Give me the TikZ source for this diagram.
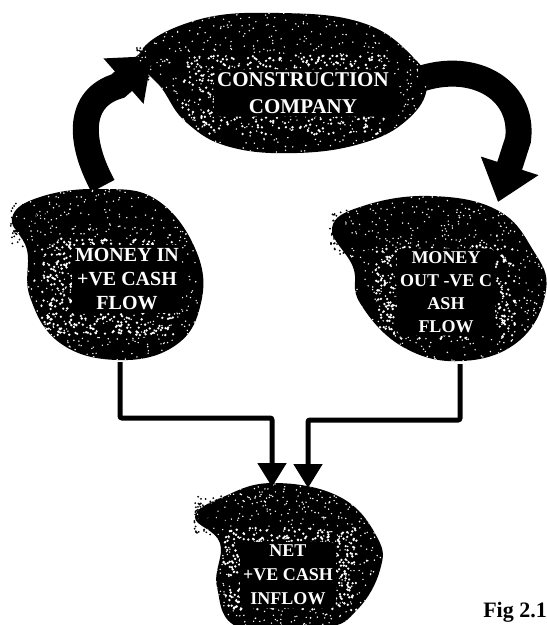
\documentclass[tikz,border=0pt]{standalone}
\usepackage{fontspec}
\setmainfont{Liberation Serif}
\usetikzlibrary{arrows.meta}
\newcommand\speckle[7]{\fill[#6] \foreach \k in {1,...,#5}{ ({#1+#3*rand},{#2+#4*rand}) circle[radius=#7]};}
\begin{document}
\begin{tikzpicture}[x=1pt,y=-1pt,
  lbl/.style={text=white,fill=black,rounded corners=6pt,align=center,inner sep=3pt},
  bigband/.style={line width=26pt,-{Triangle[width=58pt,length=38pt]}},
  elbow/.style={line width=5pt,rounded corners=2pt,-{Triangle[width=28pt,length=24pt]}}]
\pgfmathsetseed{7}
\useasboundingbox (0,0) rectangle (547,625);
\fill[white] (0,0) rectangle (547,625);
\def\topblob{plot[smooth cycle,tension=0.7] coordinates {(140,53) (197,20) (280,13) (363,23) (413,57) (427,87) (407,120) (363,143) (297,153) (230,147) (187,123) (163,90)}}
\def\leftblob{plot[smooth cycle,tension=0.7] coordinates {(40,197) (100,189) (157,200) (197,253) (200,307) (173,347) (117,360) (60,343) (30,297) (27,250) (12,218)}}
\def\rightblob{plot[smooth cycle,tension=0.7] coordinates {(363,206) (430,196) (497,210) (533,250) (546,290) (520,340) (463,361) (403,347) (360,303) (353,267) (332,228)}}
\def\botblob{plot[smooth cycle,tension=0.7] coordinates {(223,497) (273,483) (340,497) (377,537) (380,570) (357,610) (323,628) (240,628) (217,587) (220,543) (195,517)}}
% curved arrows
\coordinate (la1) at (103,186);
\coordinate (la2) at (152,56);
\coordinate (ra1) at (412,82);
\coordinate (ra2) at (498,202);
\draw[bigband] (la1) .. controls (78,140) and (78,98) .. (118,86) -- (la2);
\draw[bigband] (ra1) .. controls (470,58) and (525,88) .. (518,140) -- (ra2);
% blobs
\foreach \b/\cx/\cy/\w/\h in {\topblob/283/83/145/72,\leftblob/108/275/95/88,\rightblob/445/280/100/85,\botblob/290/557/95/75}{
  \fill[black] \b;
  \begin{scope}
    \clip \b;
    \speckle{\cx}{\cy}{\w}{\h}{700}{white}{0.8}
    \speckle{\cx}{\cy+12}{0.7*\w}{0.55*\h}{450}{white}{1.3}
  \end{scope}
}
% fuzzy edges
\speckle{30}{225}{20}{22}{130}{black}{1}
\speckle{350}{232}{20}{22}{130}{black}{1}
\speckle{212}{515}{18}{20}{120}{black}{1}
\speckle{148}{62}{12}{18}{60}{black}{1}
% texts
\node[lbl,font=\bfseries\fontsize{21}{27}\selectfont] (cc) at (303,93) {CONSTRUCTION\\COMPANY};
\node[lbl,font=\bfseries\fontsize{20}{24}\selectfont] (min) at (127,279) {MONEY IN\\+VE CASH\\FLOW};
\node[lbl,font=\bfseries\fontsize{18}{23}\selectfont] (mout) at (446,292) {MONEY\\OUT -VE C\\ASH\\FLOW};
\node[lbl,font=\bfseries\fontsize{18}{24}\selectfont] (net) at (288,575) {NET\\+VE CASH\\INFLOW};
% elbow connectors
\coordinate (l1) at (120,362);
\coordinate (l2) at (272,487);
\coordinate (r1) at (460,364);
\coordinate (r2) at (308,488);
\draw[elbow] (l1) -- (120,418) -- (272,418) -- (l2);
\draw[elbow] (r1) -- (460,420) -- (308,420) -- (r2);
\node[font=\bfseries\fontsize{22}{24}\selectfont,anchor=south east,inner sep=0pt] (fig) at (547,623) {Fig 2.1};
\end{tikzpicture}
\end{document}
